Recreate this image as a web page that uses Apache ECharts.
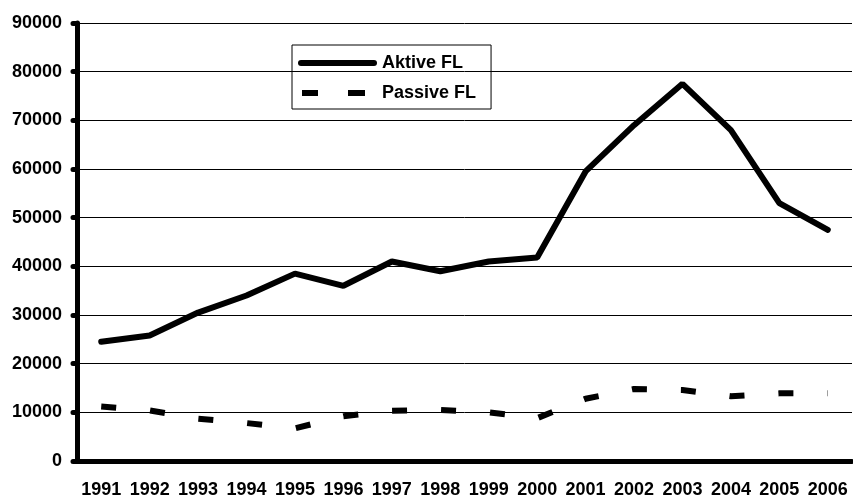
<!DOCTYPE html>
<html>
<head>
<meta charset="utf-8">
<script src="https://cdn.jsdelivr.net/npm/echarts@6/dist/echarts.min.js"></script>
<style>
  html, body { margin: 0; padding: 0; background: #fff; }
  #chart { width: 853px; height: 499px; }
</style>
</head>
<body>
<div id="chart"></div>
<script>
// data
var years = ["1991", "1992", "1993", "1994", "1995", "1996", "1997", "1998",
  "1999", "2000", "2001", "2002", "2003", "2004", "2005", "2006"];
var aktive = [24500, 25800, 30500, 34000, 38500, 36000, 41000, 39000,
  41000, 41800, 59500, 69000, 77500, 68000, 53000, 47500];
var passive = [11200, 10400, 8700, 7800, 6700, 9200, 10300, 10500,
  10000, 8800, 12800, 14800, 14600, 13300, 13900, 13900];

var font = "Liberation Sans, Arial, sans-serif";
var chart = echarts.init(document.getElementById("chart"));

// legend icons (79 x 6 box)
var solidIcon = "path://M3,0 L76,0 A3,3 0 0 1 76,6 L3,6 A3,3 0 0 1 3,0 Z";
var dashIcon = "path://M0,0 L0.01,0 M79,6 L78.99,6 M4,0 L20,0 L20,6 L4,6 Z M50,0 L67,0 L67,6 L50,6 Z";

chart.setOption({
  animation: false,
  grid: { left: 77, right: 1, top: 23, bottom: 37 },
  legend: {
    orient: "vertical",
    left: 292,
    top: 45,
    padding: [9, 15, 7, 6],
    borderColor: "#000",
    borderWidth: 1,
    itemWidth: 79,
    itemHeight: 6,
    itemGap: 12,
    symbolKeepAspect: false,
    textStyle: { fontFamily: font, fontWeight: "bold", fontSize: 18, color: "#000" },
    data: [
      { name: "Aktive FL", icon: solidIcon, itemStyle: { color: "#000" } },
      { name: "Passive FL", icon: dashIcon, itemStyle: { color: "#000" } }
    ]
  },
  xAxis: {
    type: "category",
    data: years,
    boundaryGap: true,
    axisLine: { lineStyle: { color: "#000", width: 5 } },
    axisTick: { length: 5, lineStyle: { color: "#000", width: 5, cap: "round" } },
    axisLabel: {
      interval: 0, margin: 20,
      fontFamily: font, fontWeight: "bold", fontSize: 18, color: "#000"
    }
  },
  yAxis: {
    type: "value",
    min: 0,
    max: 90000,
    interval: 10000,
    axisLine: { show: true, lineStyle: { color: "#000", width: 5 } },
    axisTick: { show: true, length: 4, lineStyle: { color: "#000", width: 5, cap: "round" } },
    axisLabel: {
      margin: 15,
      formatter: function (v) { return String(v); },
      fontFamily: font, fontWeight: "bold", fontSize: 18, color: "#000"
    },
    splitLine: { lineStyle: { color: "#000", width: 1 } }
  },
  series: [
    {
      name: "Aktive FL",
      type: "line",
      data: aktive,
      symbol: "none",
      color: "#000",
      lineStyle: { color: "#000", width: 6, cap: "round" }
    },
    {
      name: "Passive FL",
      type: "line",
      data: passive,
      symbol: "none",
      color: "#000",
      lineStyle: { color: "#000", width: 6, type: [15, 34] }
    }
  ]
});
</script>
</body>
</html>
